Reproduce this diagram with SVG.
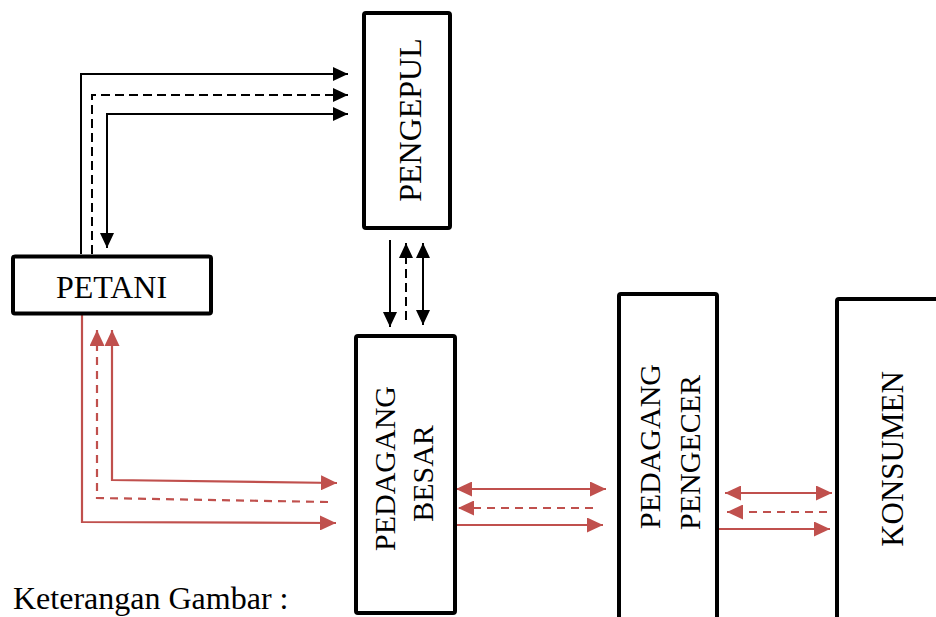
<svg xmlns="http://www.w3.org/2000/svg" width="936" height="617" viewBox="0 0 936 617">
<defs>
<marker id="ab" viewBox="0 0 15 14" refX="15" refY="7" markerWidth="15" markerHeight="14" markerUnits="userSpaceOnUse" orient="auto-start-reverse"><path d="M0,0 L15,7 L0,14 z" fill="#000"/></marker>
<marker id="ar" viewBox="0 0 16 15" refX="16" refY="7.5" markerWidth="16" markerHeight="15" markerUnits="userSpaceOnUse" orient="auto-start-reverse"><path d="M0,0 L16,7.5 L0,15 z" fill="#C0504D"/></marker>
</defs>
<style>
.box{fill:#fff;stroke:#000;stroke-width:4}
.t{font-family:"Liberation Serif","Times New Roman",serif;fill:#000}
.k{fill:none;stroke:#000;stroke-width:2}
.r{fill:none;stroke:#C0504D;stroke-width:2.2}
.kd{stroke-dasharray:9 5}
.rd{stroke-dasharray:8 6}
</style>
<rect width="936" height="617" fill="#fff"/>
<g id="connectors">
<path class="k" d="M81,254 V74 H348" marker-end="url(#ab)"/>
<path class="k kd" d="M92,254 V95 H348" marker-end="url(#ab)"/>
<path class="k" d="M107,248 V114 H348" marker-start="url(#ab)" marker-end="url(#ab)"/>
<path class="k" d="M390,240 V327" marker-end="url(#ab)"/>
<path class="k kd" d="M406,320 V243" marker-end="url(#ab)"/>
<path class="k" d="M423,243 V325" marker-start="url(#ab)" marker-end="url(#ab)"/>
<path class="r" d="M82,315 V522 L336,523" marker-end="url(#ar)"/>
<path class="r rd" d="M328,502 L97,498 V330" marker-end="url(#ar)"/>
<path class="r" d="M337,483 L112,480 V330" marker-start="url(#ar)" marker-end="url(#ar)"/>
<path class="r" d="M456,489 H606" marker-start="url(#ar)" marker-end="url(#ar)"/>
<path class="r rd" d="M593,508 H458" marker-end="url(#ar)"/>
<path class="r" d="M455,525 H603" marker-end="url(#ar)"/>
<path class="r" d="M725,493 H832" marker-start="url(#ar)" marker-end="url(#ar)"/>
<path class="r rd" d="M827,512 H727" marker-end="url(#ar)"/>
<path class="r" d="M719,529 H830" marker-end="url(#ar)"/>
</g>
<g id="pengepul">
<rect class="box" x="364" y="13" width="86" height="215" rx="2"/>
<text class="t" font-size="32" text-anchor="middle" transform="translate(421,120) rotate(-90)">PENGEPUL</text>
</g>
<g id="petani">
<rect class="box" x="13" y="256.5" width="198" height="57" rx="2"/>
<text class="t" font-size="32" x="111.5" y="298" text-anchor="middle">PETANI</text>
</g>
<g id="pedagang-besar">
<rect class="box" x="356" y="336" width="99" height="277" rx="2"/>
<text class="t" font-size="30" text-anchor="middle" transform="translate(395,468.5) rotate(-90)">PEDAGANG</text>
<text class="t" font-size="30" text-anchor="middle" transform="translate(433,473.5) rotate(-90)">BESAR</text>
</g>
<g id="pedagang-pengecer">
<rect class="box" x="619" y="294" width="98" height="340" rx="2"/>
<text class="t" font-size="30" text-anchor="middle" transform="translate(660,446.5) rotate(-90)">PEDAGANG</text>
<text class="t" font-size="30" text-anchor="middle" transform="translate(700,452.5) rotate(-90)">PENGECER</text>
</g>
<g id="konsumen">
<rect class="box" x="837" y="299" width="120" height="340" rx="2"/>
<text class="t" font-size="31" text-anchor="middle" transform="translate(903,459) rotate(-90)">KONSUMEN</text>
</g>
<text class="t" font-size="32" x="13" y="609">Keterangan Gambar :</text>
</svg>
